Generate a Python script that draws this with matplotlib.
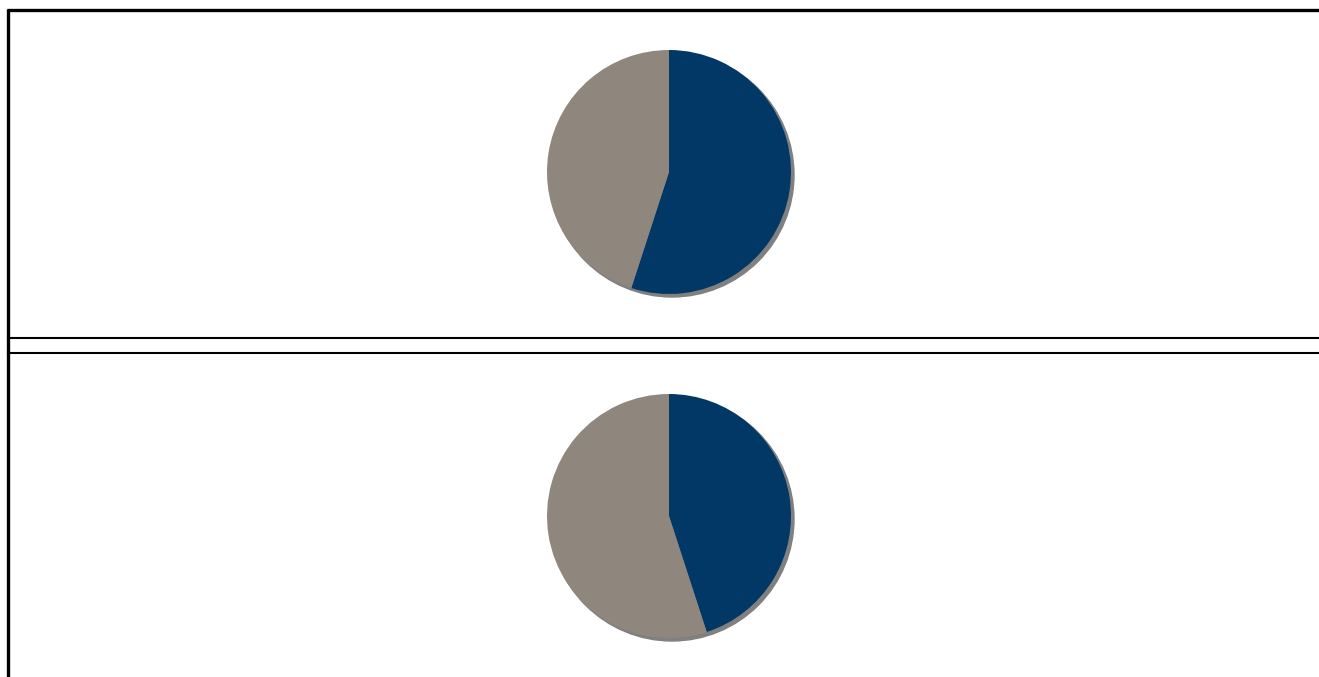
import matplotlib
matplotlib.use("Agg")
import matplotlib.pyplot as plt
from matplotlib.patches import Circle

W, H = 1319, 677

labels = ["Navy", "Gray"]
top_values = [55, 45]
bottom_values = [45, 55]
colors = ["#023866", "#8f867d"]
shadow_color = "#808080"

fig = plt.figure(figsize=(W / 100, H / 100), dpi=100)

# background frame in pixel coordinates
frame = fig.add_axes([0, 0, 1, 1])
frame.set_xlim(0, W)
frame.set_ylim(H, 0)
frame.axis("off")
frame.plot([8, 8], [9, H], color="black", lw=2.4, solid_capstyle="butt")
frame.plot([7, W], [10, 10], color="black", lw=2.4, solid_capstyle="butt")
frame.plot([8, W], [338, 338], color="black", lw=1.5)
frame.plot([8, W], [353, 353], color="black", lw=1.5)


def draw_pie(cx, cy, r, values):
    m = 10  # margin in px so the shadow isn't clipped
    ax = fig.add_axes([(cx - r - m) / W, 1 - (cy + r + m) / H,
                       2 * (r + m) / W, 2 * (r + m) / H])
    ax.axis("off")
    off = 3.0 / r
    ax.add_patch(Circle((off, -off), 1.0, color=shadow_color, zorder=0))
    ax.pie(values, colors=colors, startangle=90, counterclock=False,
           radius=1.0, wedgeprops=dict(linewidth=0))
    lim = 1 + m / r
    ax.set_xlim(-lim, lim)
    ax.set_ylim(-lim, lim)
    ax.set_aspect("auto")


draw_pie(669, 172, 122, top_values)
draw_pie(669, 516, 122, bottom_values)

fig.savefig("out.png", dpi=100)
